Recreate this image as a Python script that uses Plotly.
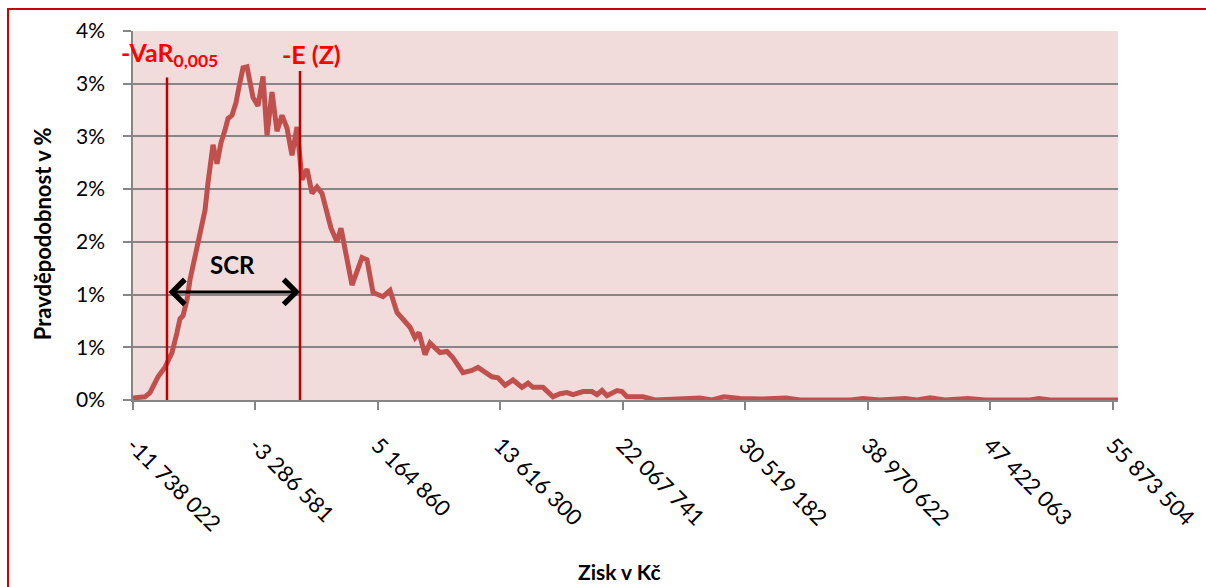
import plotly.graph_objects as go

# Profit bins (millions of Kč) and their simulated probability (%)
zisk_mil = [
    -11.738, -10.910, -10.565, -10.012, -9.529, -9.046, -8.701, -8.494, -8.287, -8.011,
    -7.804, -7.459, -7.252, -6.975, -6.768, -6.561, -6.216, -5.940, -5.664, -5.388,
    -5.181, -4.905, -4.629, -4.422, -4.145, -3.869, -3.593, -3.455, -3.110, -2.765,
    -2.489, -2.144, -1.799, -1.454, -1.108, -0.763, -0.418, -0.073, 0.272, 0.617,
    0.962, 1.307, 1.929, 2.343, 2.619, 3.378, 4.068, 4.413, 4.828, 5.518,
    6.001, 6.484, 7.381, 7.726, 8.003, 8.417, 8.762, 9.452, 9.935, 10.349,
    11.040, 11.661, 12.075, 12.558, 13.041, 13.455, 13.939, 14.491, 15.112, 15.526,
    15.871, 16.561, 17.252, 17.735, 18.218, 18.632, 19.322, 19.944, 20.289, 20.634,
    20.979, 21.669, 22.014, 22.359, 23.464, 24.292, 26.225, 27.398, 28.226, 29.055,
    30.159, 31.677, 33.334, 34.300, 37.821, 38.649, 39.822, 41.548, 42.376, 43.273,
    44.309, 45.896, 47.070, 50.176, 50.797, 51.556, 56.250,
]
pravdepodobnost = [
    0.02, 0.03, 0.07, 0.22, 0.31, 0.45, 0.64, 0.77, 0.80, 0.95,
    1.14, 1.36, 1.52, 1.68, 1.80, 2.06, 2.42, 2.24, 2.44, 2.56,
    2.67, 2.70, 2.82, 2.97, 3.15, 3.16, 2.96, 2.87, 2.79, 3.07,
    2.51, 2.92, 2.55, 2.70, 2.58, 2.32, 2.59, 2.09, 2.19, 1.96,
    2.02, 1.96, 1.63, 1.50, 1.63, 1.09, 1.35, 1.33, 1.02, 0.98,
    1.04, 0.83, 0.69, 0.59, 0.64, 0.43, 0.54, 0.45, 0.46, 0.40,
    0.26, 0.28, 0.31, 0.26, 0.22, 0.21, 0.14, 0.19, 0.12, 0.16,
    0.12, 0.12, 0.03, 0.06, 0.07, 0.05, 0.08, 0.08, 0.05, 0.09,
    0.04, 0.09, 0.08, 0.03, 0.03, 0.00, 0.01, 0.02, 0.00, 0.03,
    0.015, 0.01, 0.02, 0.00, 0.00, 0.015, 0.00, 0.015, 0.00, 0.02,
    0.00, 0.015, 0.00, 0.00, 0.015, 0.00, 0.00,
]

# Risk measures (Kč) and the heights of their marker lines (%)
var_005 = -9.391e6
e_z = -0.211e6
var_line_top = 3.06
e_line_top = 3.12
scr_arrow_y = 1.025

x_tickvals = [-11738022, -3286581, 5164860, 13616300, 22067741,
              30519182, 38970622, 47422063, 55873504]
x_ticktext = ["-11 738 022", "-3 286 581", "5 164 860", "13 616 300", "22 067 741",
              "30 519 182", "38 970 622", "47 422 063", "55 873 504"]
y_tickvals = [0, 0.5, 1.0, 1.5, 2.0, 2.5, 3.0, 3.5]
y_ticktext = ["0%", "1%", "1%", "2%", "2%", "3%", "3%", "4%"]

x_range = [-11738022, 56250000]
y_range = [0, 3.5]

FONT = "Lato"
LINE_RED = "#C0504D"
MARK_RED = "#C00000"

zisk = [v * 1e6 for v in zisk_mil]

fig = go.Figure()
fig.add_trace(go.Scatter(
    x=zisk, y=pravdepodobnost, mode="lines",
    line=dict(color=LINE_RED, width=5),
    hoverinfo="skip", showlegend=False,
))

# VaR and expected-value marker lines
fig.add_shape(type="line", xref="x", yref="y", x0=var_005, x1=var_005,
              y0=0, y1=var_line_top, line=dict(color=MARK_RED, width=2.5))
fig.add_shape(type="line", xref="x", yref="y", x0=e_z, x1=e_z,
              y0=0, y1=e_line_top, line=dict(color=MARK_RED, width=2.5))

# chart frame
fig.add_shape(type="rect", xref="paper", yref="paper",
              x0=-0.1269, x1=1.2, y0=-1.0, y1=1.0596,
              line=dict(color="#D00000", width=2), fillcolor="rgba(0,0,0,0)",
              layer="below")

# SCR double arrow between the two risk measures
fig.add_annotation(x=e_z, y=scr_arrow_y, ax=var_005, ay=scr_arrow_y,
                   xref="x", yref="y", axref="x", ayref="y", text="",
                   showarrow=True, arrowside="end+start",
                   arrowhead=4, startarrowhead=4,
                   arrowsize=1.6, startarrowsize=1.6,
                   arrowwidth=3, arrowcolor="#000000",
                   standoff=0, startstandoff=0)

fig.add_annotation(text="<b>SCR</b>", xref="paper", yref="paper",
                   x=0.1015, y=0.3672, xanchor="center", yanchor="middle",
                   showarrow=False, font=dict(family=FONT, size=24, color="#000000"))
fig.add_annotation(text="<b>-VaR<sub>0,005</sub></b>", xref="paper", yref="paper",
                   x=-0.0142, y=0.9377, xanchor="left", yanchor="middle",
                   showarrow=False, font=dict(family=FONT, size=25, color="#FF0000"))
fig.add_annotation(text="<b>-E (Z)</b>", xref="paper", yref="paper",
                   x=0.1493, y=0.9377, xanchor="left", yanchor="middle",
                   showarrow=False, font=dict(family=FONT, size=25, color="#FF0000"))

# axis titles
fig.add_annotation(text="<b>Pravděpodobnost v %</b>", xref="paper", yref="paper",
                   x=-0.0924, y=0.452, xanchor="center", yanchor="middle",
                   textangle=-90, showarrow=False,
                   font=dict(family=FONT, size=22, color="#000000"))
fig.add_annotation(text="<b>Zisk v Kč</b>", xref="paper", yref="paper",
                   x=0.4944, y=-0.466, xanchor="center", yanchor="middle",
                   showarrow=False, font=dict(family=FONT, size=21, color="#000000"))

fig.update_xaxes(
    range=x_range, tickmode="array", tickvals=x_tickvals, ticktext=x_ticktext,
    tickangle=45, ticks="outside", ticklen=8, tickwidth=1.5, tickcolor="#868686",
    showline=True, linecolor="#868686", linewidth=1.5,
    showgrid=False, zeroline=False, ticklabelstandoff=14,
    tickfont=dict(family=FONT, size=22, color="#000000"),
)
fig.update_yaxes(
    range=y_range, tickmode="array", tickvals=y_tickvals, ticktext=y_ticktext,
    ticks="outside", ticklen=8, tickwidth=1.5, tickcolor="#868686",
    showline=True, linecolor="#868686", linewidth=1.5,
    showgrid=True, gridcolor="#868686", gridwidth=1.5, zeroline=False,
    ticklabelstandoff=14,
    tickfont=dict(family=FONT, size=21, color="#000000"),
)

fig.update_layout(
    width=1206, height=587,
    margin=dict(l=133, r=88, t=31, b=187, autoexpand=False),
    plot_bgcolor="#F2DCDB", paper_bgcolor="#FFFFFF",
    font=dict(family=FONT),
)

fig.write_html("out.html")
